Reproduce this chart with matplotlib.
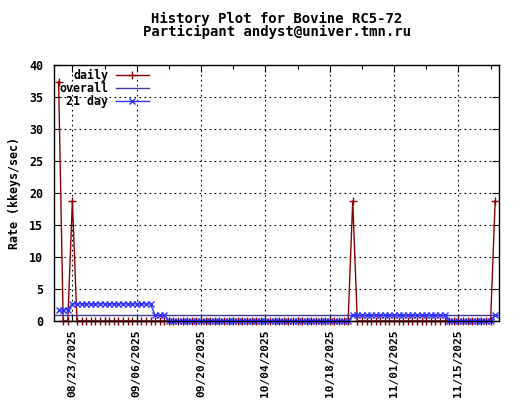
import matplotlib
matplotlib.use("Agg")
import matplotlib.pyplot as plt
import matplotlib.dates as mdates
import pandas as pd

# one value per day, 08/20/2025 .. 11/23/2025
DATES = pd.date_range("2025-08-20", "2025-11-23", freq="D")

DAILY = (
    # Aug 20-31
    [37.4, 0, 0, 18.75, 0, 0, 0, 0, 0, 0, 0, 0]
    # Sep 1-30
    + [0, 0, 0, 0, 0, 0, 0, 0, 0, 0, 0, 0, 0, 0, 0,
       0, 0, 0, 0, 0, 0, 0, 0, 0, 0, 0, 0, 0, 0, 0]
    # Oct 1-31
    + [0, 0, 0, 0, 0, 0, 0, 0, 0, 0, 0, 0, 0, 0, 0, 0,
       0, 0, 0, 0, 0, 0, 18.75, 0, 0, 0, 0, 0, 0, 0, 0]
    # Nov 1-23
    + [0, 0, 0, 0, 0, 0, 0, 0, 0, 0, 0, 0,
       0, 0, 0, 0, 0, 0, 0, 0, 0, 0, 18.75]
)

DAY21 = (
    [1.78, 1.78, 1.78, 2.67, 2.67, 2.67, 2.67, 2.67, 2.67, 2.67, 2.67, 2.67]
    + [2.67, 2.67, 2.67, 2.67, 2.67, 2.67, 2.67, 2.67, 2.67, 0.89, 0.89, 0.89, 0, 0, 0,
       0, 0, 0, 0, 0, 0, 0, 0, 0, 0, 0, 0, 0, 0, 0]
    + [0, 0, 0, 0, 0, 0, 0, 0, 0, 0, 0, 0, 0, 0, 0, 0,
       0, 0, 0, 0, 0, 0, 0.89, 0.89, 0.89, 0.89, 0.89, 0.89, 0.89, 0.89, 0.89]
    + [0.89, 0.89, 0.89, 0.89, 0.89, 0.89, 0.89, 0.89, 0.89, 0.89, 0.89, 0.89,
       0, 0, 0, 0, 0, 0, 0, 0, 0, 0, 0.89]
)

OVERALL = 0.89

TICK_DATES = ["2025-08-23", "2025-09-06", "2025-09-20", "2025-10-04",
              "2025-10-18", "2025-11-01", "2025-11-15"]
Y_TICKS = [0, 5, 10, 15, 20, 25, 30, 35, 40]

TITLE = "History Plot for Bovine RC5-72\nParticipant andyst@univer.tmn.ru"

plt.rcParams["font.family"] = "DejaVu Sans Mono"
plt.rcParams["font.weight"] = "bold"
plt.rcParams["axes.titleweight"] = "bold"
plt.rcParams["axes.labelweight"] = "bold"
plt.rcParams["font.size"] = 8.4

C_DAILY = "#880000"
C_OVERALL = "#3c3c98"
C_21 = "#3030ff"

fig = plt.figure(figsize=(5.2, 4.0), dpi=100)
ax = fig.add_axes([54 / 520, 79 / 400, 445.3 / 520, 256 / 400])

ax.plot(DATES, DAILY, color=C_DAILY, lw=1.0, marker="+", ms=6, mew=1.0,
        clip_on=False, zorder=3, label="daily")
ax.axhline(OVERALL, color=C_OVERALL, lw=1.0, zorder=3, label="overall")
ax.plot(DATES, DAY21, color=C_21, lw=1.0, marker="x", ms=4.5, mew=1.0,
        clip_on=False, zorder=4, label="21 day")

ax.set_xlim(pd.Timestamp("2025-08-19"), pd.Timestamp("2025-11-23 21:30"))
ax.set_ylim(0, 40)

major = pd.to_datetime(TICK_DATES)
minor = major + pd.Timedelta(days=7)
ax.set_xticks(major)
ax.set_xticks(minor, minor=True)
ax.xaxis.set_major_formatter(mdates.DateFormatter("%m/%d/%Y"))
ax.set_yticks(Y_TICKS)

ax.tick_params(axis="both", which="both", direction="in", top=True, right=True,
               color="black", width=0.8)
ax.tick_params(axis="both", which="major", length=5)
ax.tick_params(axis="x", which="minor", length=3)
ax.tick_params(axis="y", pad=8)
ax.tick_params(axis="x", pad=6, labelsize=8.1)
for lab in ax.get_xticklabels():
    lab.set_rotation(90)
    lab.set_ha("center")
    lab.set_va("top")

ax.grid(True, which="major", color="black", lw=0.8, ls=(0, (1.5, 3)))
ax.set_axisbelow(True)
for s in ax.spines.values():
    s.set_linewidth(1.0)
    s.set_zorder(5)

ax.set_ylabel("Rate (kkeys/sec)")
ax.yaxis.set_label_coords(-0.074, 0.5)
ax.set_title(TITLE, pad=21, linespacing=0.85)

leg = ax.legend(loc="upper left", bbox_to_anchor=(0.012, 0.985), frameon=False,
                markerfirst=False, handlelength=2.8, handletextpad=0.65,
                labelspacing=0.0, borderpad=0, borderaxespad=0, numpoints=1)

fig.savefig("out.png", dpi=100)
